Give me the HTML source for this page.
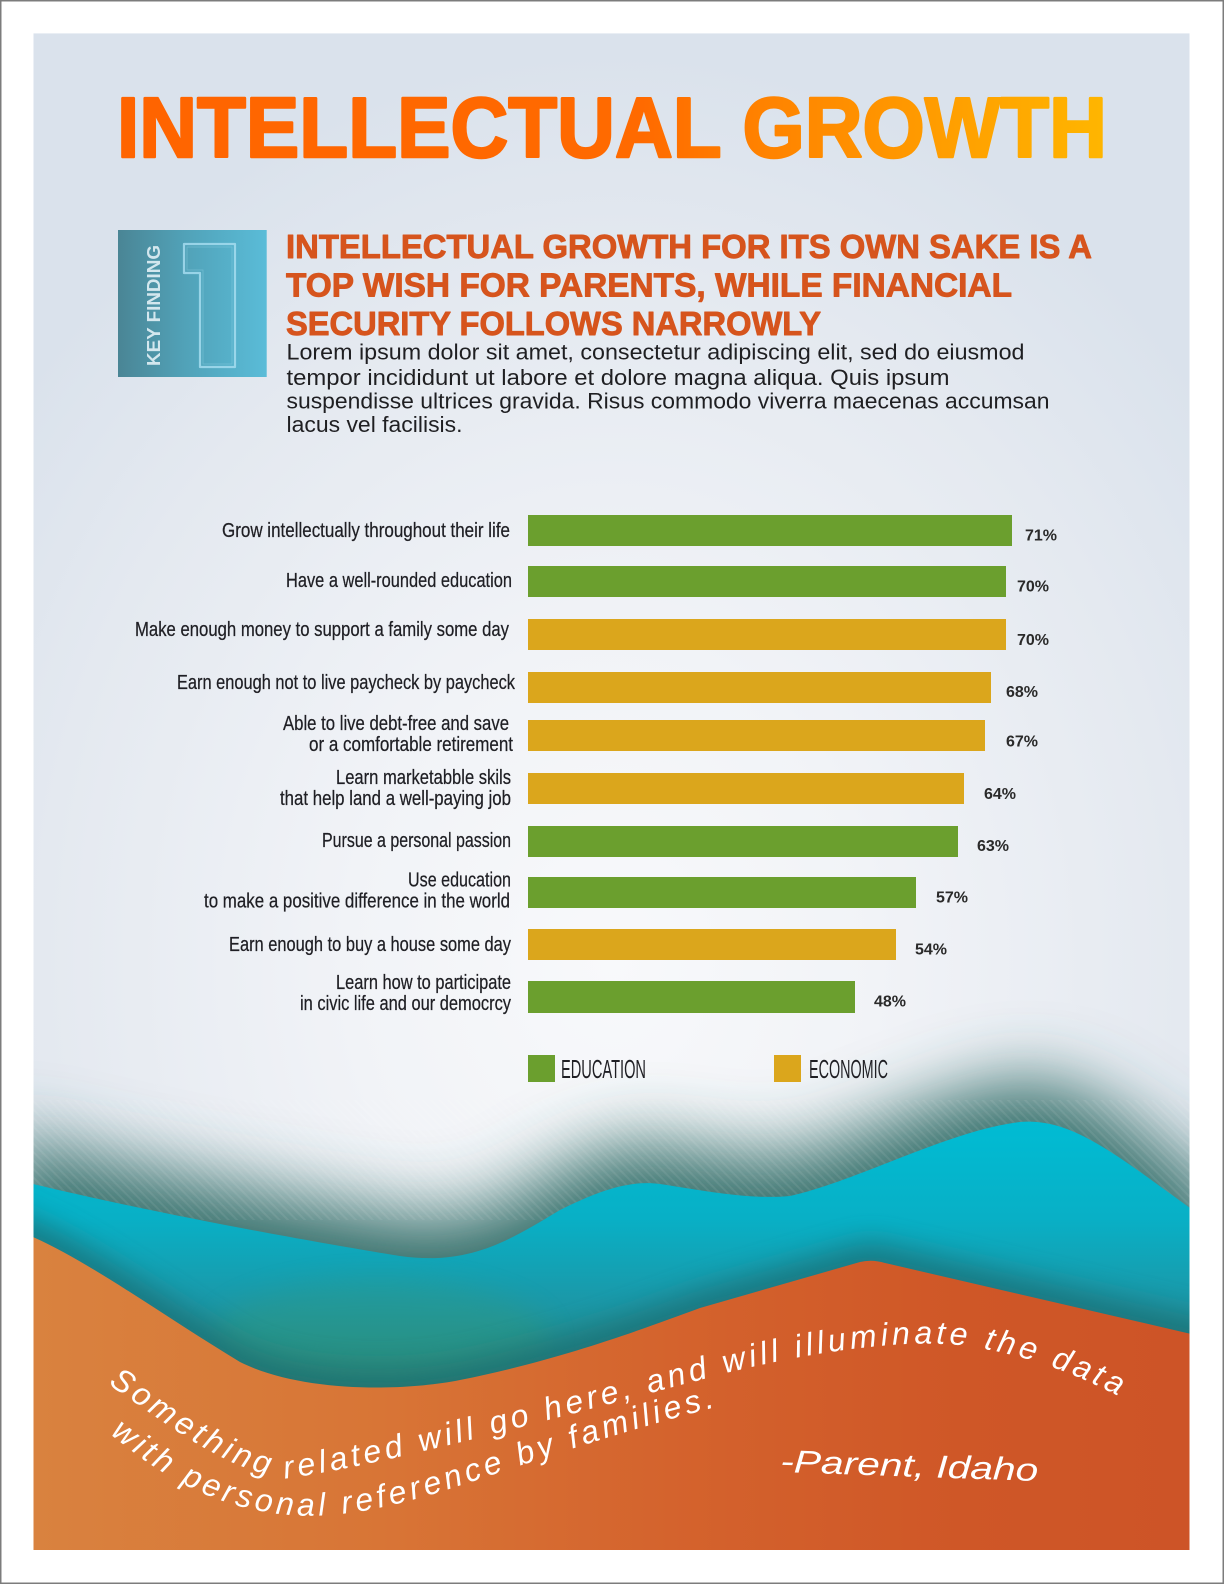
<!DOCTYPE html>
<html>
<head>
<meta charset="utf-8">
<style>
html,body{margin:0;padding:0;background:#fff;width:1224px;height:1584px;overflow:hidden;}
svg{display:block;}
</style>
</head>
<body>
<svg width="1224" height="1584" viewBox="0 0 1224 1584" xmlns="http://www.w3.org/2000/svg">
<defs>
  <radialGradient id="bg" gradientUnits="userSpaceOnUse" cx="612" cy="960" r="760" gradientTransform="translate(612 960) scale(1 1.2) translate(-612 -960)">
    <stop offset="0" stop-color="#f8f9fb"/>
    <stop offset="0.35" stop-color="#f1f3f7"/>
    <stop offset="0.75" stop-color="#e4e9f0"/>
    <stop offset="1" stop-color="#dae2ec"/>
  </radialGradient>
  <linearGradient id="title" gradientUnits="userSpaceOnUse" x1="117" y1="0" x2="1107" y2="0">
    <stop offset="0" stop-color="#ff6400"/>
    <stop offset="0.53" stop-color="#ff6a00"/>
    <stop offset="0.65" stop-color="#ff8200"/>
    <stop offset="0.89" stop-color="#ffa600"/>
    <stop offset="1" stop-color="#ffb600"/>
  </linearGradient>
  <linearGradient id="kf" gradientUnits="userSpaceOnUse" x1="118" y1="0" x2="267" y2="0">
    <stop offset="0" stop-color="#4a8595"/>
    <stop offset="0.45" stop-color="#51a2b8"/>
    <stop offset="1" stop-color="#5abcd8"/>
  </linearGradient>
  <linearGradient id="cyan" gradientUnits="userSpaceOnUse" x1="0" y1="1120" x2="0" y2="1400">
    <stop offset="0" stop-color="#00bcd4"/>
    <stop offset="0.35" stop-color="#08b0c6"/>
    <stop offset="0.65" stop-color="#1b98a8"/>
    <stop offset="1" stop-color="#2b8576"/>
  </linearGradient>
  <linearGradient id="orange" gradientUnits="userSpaceOnUse" x1="33" y1="0" x2="1190" y2="0">
    <stop offset="0" stop-color="#d9823f"/>
    <stop offset="0.3" stop-color="#d87536"/>
    <stop offset="0.55" stop-color="#d4632d"/>
    <stop offset="0.8" stop-color="#cf5727"/>
    <stop offset="1" stop-color="#cd5427"/>
  </linearGradient>
  <pattern id="hatch" patternUnits="userSpaceOnUse" width="6" height="6" patternTransform="rotate(-45)">
    <rect x="0" y="0" width="2" height="6" fill="#ffffff" opacity="0.07"/>
  </pattern>
  <filter id="blurBig" filterUnits="userSpaceOnUse" x="0" y="950" width="1224" height="634">
    <feGaussianBlur stdDeviation="35"/>
  </filter>
  <filter id="blurSmall" filterUnits="userSpaceOnUse" x="0" y="1050" width="1224" height="534">
    <feGaussianBlur stdDeviation="14"/>
  </filter>
  <clipPath id="panel">
    <rect x="33.5" y="33.3" width="1156" height="1516.7"/>
  </clipPath>
  <path id="q1" d="M108,1384 C170,1426 230,1474 290,1478 C400,1462 600,1406 730,1372 C830,1348 930,1335 990,1350 C1040,1360 1080,1376 1122,1398" fill="none"/>
  <path id="q2" d="M110,1434 C150,1466 200,1504 280,1514 C330,1520 380,1510 440,1492 C520,1466 610,1434 720,1406" fill="none"/>
</defs>

<rect x="0" y="0" width="1224" height="1584" fill="#ffffff"/>
<rect x="0.75" y="0.75" width="1222.5" height="1582.5" fill="none" stroke="#7c7c7c" stroke-width="1.5"/>

<g clip-path="url(#panel)">
  <rect x="33.5" y="33.3" width="1156" height="1516.7" fill="url(#bg)"/>
  <!-- shadow above cyan hills -->
  <path transform="translate(0,-40)" filter="url(#blurBig)" fill="#35706a" d="M0,1176 L33,1184 C150,1212 300,1240 400,1256 C470,1266 510,1240 560,1210 C600,1190 630,1180 660,1184 C700,1190 750,1200 790,1196 C860,1180 950,1130 1020,1122 C1070,1118 1110,1150 1190,1208 L1224,1226 L1224,1580 L0,1580 Z"/>
  <rect x="33" y="1100" width="1157" height="120" fill="url(#hatch)"/>
  <!-- cyan hill -->
  <path fill="url(#cyan)" d="M20,1181 L33,1184 C150,1212 300,1240 400,1256 C470,1266 510,1240 560,1210 C600,1190 630,1180 660,1184 C700,1190 750,1200 790,1196 C860,1180 950,1130 1020,1122 C1070,1118 1110,1150 1190,1208 L1200,1215 L1200,1555 L20,1555 Z"/>
  <!-- greenish tint patch -->
  <ellipse cx="380" cy="1340" rx="170" ry="60" fill="#3a9a6a" opacity="0.25" filter="url(#blurSmall)"/>
  <!-- shadow of orange on cyan -->
  <path transform="translate(0,-18)" filter="url(#blurSmall)" fill="#1c6a70" opacity="0.7" d="M0,1222 L33,1237 C90,1262 170,1320 240,1362 C300,1392 400,1392 460,1380 C560,1360 640,1330 700,1308 L860,1262 Q872,1259 885,1263 L1190,1334 L1224,1342 L1224,1575 L0,1575 Z"/>
  <!-- orange hill -->
  <path fill="url(#orange)" d="M20,1231 L33,1237 C90,1262 170,1320 240,1362 C300,1392 400,1392 460,1380 C560,1360 640,1330 700,1308 L860,1262 Q872,1259 885,1263 L1200,1336 L1200,1555 L20,1555 Z"/>
</g>

<!-- Title -->
<text x="117" y="157" font-family="Liberation Sans, Arial, sans-serif" font-weight="bold" font-size="85" fill="url(#title)" stroke="url(#title)" stroke-width="2.5" stroke-linejoin="round" textLength="990" lengthAdjust="spacingAndGlyphs">INTELLECTUAL GROWTH</text>

<!-- Key finding box -->
<rect x="118" y="230" width="148.7" height="147" fill="url(#kf)"/>
<path d="M184,244 L235,244 L235,367 L200,367 L200,273 L184,273 Z" fill="none" stroke="#a4dcee" stroke-width="2.2" stroke-linejoin="round" opacity="0.85"/>
<path d="M187,247 L232,247 L232,364 L203,364 L203,270 L187,270 Z" fill="none" stroke="#8fd0e4" stroke-width="1" stroke-linejoin="round" opacity="0.4"/>
<text transform="translate(160,366) rotate(-90)" font-family="Liberation Sans, Arial, sans-serif" font-weight="bold" font-size="18" fill="#d3e7ee" textLength="121" lengthAdjust="spacingAndGlyphs">KEY FINDING</text>

<!-- Headline -->
<g font-family="Liberation Sans, Arial, sans-serif" font-weight="bold" font-size="33" fill="#d6541d" stroke="#d6541d" stroke-width="0.9" stroke-linejoin="round">
  <text x="286" y="258" textLength="806" lengthAdjust="spacingAndGlyphs">INTELLECTUAL GROWTH FOR ITS OWN SAKE IS A</text>
  <text x="286" y="296.5" textLength="726" lengthAdjust="spacingAndGlyphs">TOP WISH FOR PARENTS, WHILE FINANCIAL</text>
  <text x="286" y="335" textLength="535" lengthAdjust="spacingAndGlyphs">SECURITY FOLLOWS NARROWLY</text>
</g>

<!-- Body -->
<g font-family="Liberation Sans, Arial, sans-serif" font-size="22" fill="#1f1f22">
  <text x="286.5" y="359.5" textLength="738" lengthAdjust="spacingAndGlyphs">Lorem ipsum dolor sit amet, consectetur adipiscing elit, sed do eiusmod</text>
  <text x="286.5" y="385" textLength="663" lengthAdjust="spacingAndGlyphs">tempor incididunt ut labore et dolore magna aliqua. Quis ipsum</text>
  <text x="286.5" y="408.5" textLength="763" lengthAdjust="spacingAndGlyphs">suspendisse ultrices gravida. Risus commodo viverra maecenas accumsan</text>
  <text x="286.5" y="432" textLength="176" lengthAdjust="spacingAndGlyphs">lacus vel facilisis.</text>
</g>

<!-- Bars -->
<g>
  <rect x="528" y="515" width="484" height="31" fill="#6b9f2e"/>
  <rect x="528" y="566" width="478" height="31" fill="#6b9f2e"/>
  <rect x="528" y="619" width="478" height="31" fill="#dba61c"/>
  <rect x="528" y="672" width="463" height="31" fill="#dba61c"/>
  <rect x="528" y="720" width="457" height="31" fill="#dba61c"/>
  <rect x="528" y="773" width="436" height="31" fill="#dba61c"/>
  <rect x="528" y="826" width="430" height="31" fill="#6b9f2e"/>
  <rect x="528" y="877" width="388" height="31" fill="#6b9f2e"/>
  <rect x="528" y="929" width="368" height="31" fill="#dba61c"/>
  <rect x="528" y="981" width="327" height="32" fill="#6b9f2e"/>
</g>

<!-- Percent labels -->
<g font-family="Liberation Sans, Arial, sans-serif" font-weight="bold" font-size="16" fill="#2a2a2a">
  <text x="1025" y="540.5">71%</text>
  <text x="1017" y="591.5">70%</text>
  <text x="1017" y="645">70%</text>
  <text x="1006" y="697">68%</text>
  <text x="1006" y="746.5">67%</text>
  <text x="984" y="799">64%</text>
  <text x="977" y="851">63%</text>
  <text x="936" y="902.5">57%</text>
  <text x="915" y="954.5">54%</text>
  <text x="874" y="1006.5">48%</text>
</g>

<!-- Category labels -->
<g font-family="Liberation Sans Narrow, Liberation Sans, Arial, sans-serif" font-size="20.5" fill="#1f1f24" stroke="#1f1f24" stroke-width="0.25">
  <text x="222" y="537" textLength="288" lengthAdjust="spacingAndGlyphs">Grow intellectually throughout their life</text>
  <text x="286" y="587" textLength="226" lengthAdjust="spacingAndGlyphs">Have a well-rounded education</text>
  <text x="135" y="636" textLength="374" lengthAdjust="spacingAndGlyphs">Make enough money to support a family some day</text>
  <text x="177" y="689" textLength="338" lengthAdjust="spacingAndGlyphs">Earn enough not to live paycheck by paycheck</text>
  <text x="283" y="730" textLength="226" lengthAdjust="spacingAndGlyphs">Able to live debt-free and save</text>
  <text x="309" y="751" textLength="204" lengthAdjust="spacingAndGlyphs">or a comfortable retirement</text>
  <text x="336" y="784" textLength="175" lengthAdjust="spacingAndGlyphs">Learn marketabble skils</text>
  <text x="280" y="805" textLength="231" lengthAdjust="spacingAndGlyphs">that help land a well-paying job</text>
  <text x="322" y="847" textLength="189" lengthAdjust="spacingAndGlyphs">Pursue a personal passion</text>
  <text x="408" y="886.5" textLength="103" lengthAdjust="spacingAndGlyphs">Use education</text>
  <text x="204" y="907.5" textLength="306" lengthAdjust="spacingAndGlyphs">to make a positive difference in the world</text>
  <text x="229" y="951" textLength="282" lengthAdjust="spacingAndGlyphs">Earn enough to buy a house some day</text>
  <text x="336" y="989" textLength="175" lengthAdjust="spacingAndGlyphs">Learn how to participate</text>
  <text x="300" y="1010" textLength="211" lengthAdjust="spacingAndGlyphs">in civic life and our democrcy</text>
</g>

<!-- Legend -->
<rect x="528" y="1055" width="27" height="27" fill="#6b9f2e"/>
<rect x="774" y="1055" width="27" height="27" fill="#dba61c"/>
<g font-family="Liberation Sans Narrow, Liberation Sans, Arial, sans-serif" font-size="26" fill="#1f1f24">
  <text x="561" y="1078" textLength="85" lengthAdjust="spacingAndGlyphs">EDUCATION</text>
  <text x="809" y="1078" textLength="79" lengthAdjust="spacingAndGlyphs">ECONOMIC</text>
</g>

<!-- Quote -->
<g font-family="Liberation Sans, Arial, sans-serif" font-style="italic" font-size="32" fill="#ffffff" letter-spacing="4">
  <text><textPath href="#q1">Something related will go here, and will illuminate the data</textPath></text>
  <text><textPath href="#q2">with personal reference by families.</textPath></text>
  <text x="780" y="1472" transform="rotate(2 780 1472)" letter-spacing="0" textLength="258" lengthAdjust="spacingAndGlyphs">-Parent, Idaho</text>
</g>
</svg>
</body>
</html>
